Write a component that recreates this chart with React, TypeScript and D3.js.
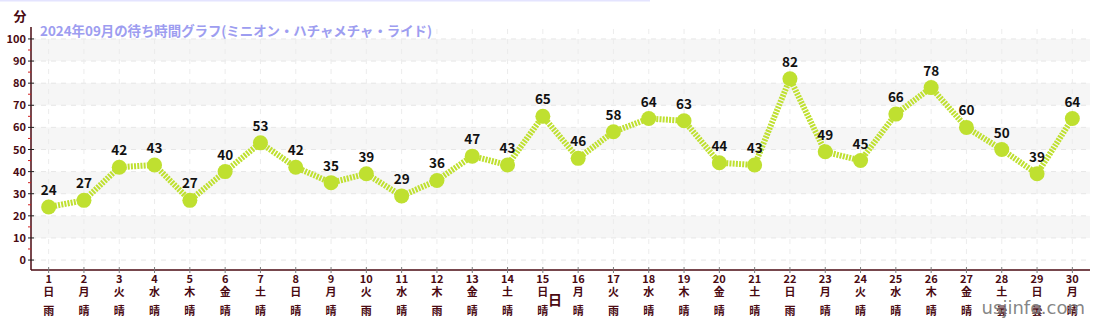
import React from "react";
import * as d3 from "d3";

const days = d3.range(1, 31).map(String);
const waits = [24, 27, 42, 43, 27, 40, 53, 42, 35, 39, 29, 36, 47, 43, 65, 46, 58, 64, 63, 44, 43, 82, 49, 45, 66, 78, 60, 50, 39, 64];
const weekdays = ["日","月","火","水","木","金","土","日","月","火","水","木","金","土","日","月","火","水","木","金","土","日","月","火","水","木","金","土","日","月"];
const weather = ["雨","晴","晴","晴","晴","晴","晴","晴","晴","雨","晴","雨","晴","晴","晴","晴","雨","晴","晴","晴","晴","雨","晴","晴","晴","晴","晴","曇","曇","晴"];
const yTicks = d3.range(0, 101, 10);
const yMinor = d3.range(5, 101, 10);
const title = "2024年09月の待ち時間グラフ(ミニオン・ハチャメチャ・ライド)";

const W = 1100, H = 320;
const L = 31, R = 1090, T = 29, B = 270;
const FONT = "'Noto Sans CJK JP', 'Noto Sans', sans-serif";
const AXC = "#4a0a12";
const LINEC = "#bfe030";

export default function App() {
  const x = d3.scaleBand().domain(days).range([L, R]);
  const cx = (d: string) => (x(d) as number) + x.bandwidth() / 2;
  const y = d3.scaleLinear().domain([-4.5, 104.5]).range([B, T]);
  const line = d3.line<number>().x((_, i) => cx(days[i])).y((v) => y(v));
  const bands = [100, 80, 60, 40, 20];
  return (
    <svg width={W} height={H} style={{ position: "absolute", left: 0, top: 0, fontFamily: FONT }}>
      <line x1={0} x2={650} y1={0.5} y2={0.5} stroke="#e4e4ff" strokeWidth={2} />
      {bands.map((b) => (
        <rect key={b} x={L} width={R - L} y={y(b)} height={y(b - 10) - y(b)} fill="#f6f6f6" />
      ))}
      {yTicks.map((t) => (
        <line key={"g" + t} x1={L} x2={R} y1={y(t)} y2={y(t)} stroke="#e6e6e6" strokeDasharray="5,5" />
      ))}
      {days.map((d) => (
        <line key={"v" + d} x1={cx(d)} x2={cx(d)} y1={T} y2={B} stroke="#ececec" strokeDasharray="5,5" />
      ))}
      <text x={40} y={36} fill="#9d9df0" fontSize={13.4} fontWeight="bold">{title}</text>
      <text x={20} y={21} textAnchor="middle" fill={AXC} fontSize={13} fontWeight="bold">分</text>
      <line x1={L} x2={L} y1={T - 2} y2={B} stroke={AXC} strokeWidth={1.5} />
      <line x1={L} x2={R} y1={B} y2={B} stroke={AXC} strokeWidth={1.5} />
      {yMinor.map((t) => (
        <line key={"m" + t} x1={L - 3} x2={L} y1={y(t)} y2={y(t)} stroke="#d02020" />
      ))}
      {yTicks.map((t) => (
        <g key={"yt" + t}>
          <line x1={L - 3} x2={L + 3} y1={y(t)} y2={y(t)} stroke="#222" />
          <text x={L - 5} y={y(t) + 4} textAnchor="end" fill={AXC} fontSize={11} fontWeight="bold">{t}</text>
        </g>
      ))}
      {days.map((d, i) => (
        <g key={"xt" + d}>
          <line x1={cx(d)} x2={cx(d)} y1={B - 3} y2={B + 3} stroke="#777" />
          <text x={cx(d)} y={B + 13} textAnchor="middle" fill={AXC} fontSize={11} fontWeight="bold">{d}</text>
          <text x={cx(d)} y={B + 26} textAnchor="middle" fill={AXC} fontSize={11} fontWeight="bold">{weekdays[i]}</text>
          <text x={cx(d)} y={B + 45} textAnchor="middle" fill={AXC} fontSize={11} fontWeight="bold">{weather[i]}</text>
        </g>
      ))}
      <text x={555} y={305} textAnchor="middle" fill={AXC} fontSize={14} fontWeight="bold">日</text>
      <path d={line(waits) || ""} fill="none" stroke={LINEC} strokeWidth={6} strokeDasharray="2,1.2" />
      {waits.map((v, i) => (
        <circle key={"c" + i} cx={cx(days[i])} cy={y(v)} r={7.5} fill={LINEC} />
      ))}
      {waits.map((v, i) => (
        <text key={"l" + i} x={cx(days[i])} y={y(v) - 12} textAnchor="middle" fill="#111" fontSize={13.5} fontWeight="bold">{v}</text>
      ))}
      <text x={1085} y={314} textAnchor="end" fill="#7a7a7a" fillOpacity={0.92} fontSize={18} fontFamily="'DejaVu Sans', sans-serif">usjinfo.com</text>
    </svg>
  );
}
